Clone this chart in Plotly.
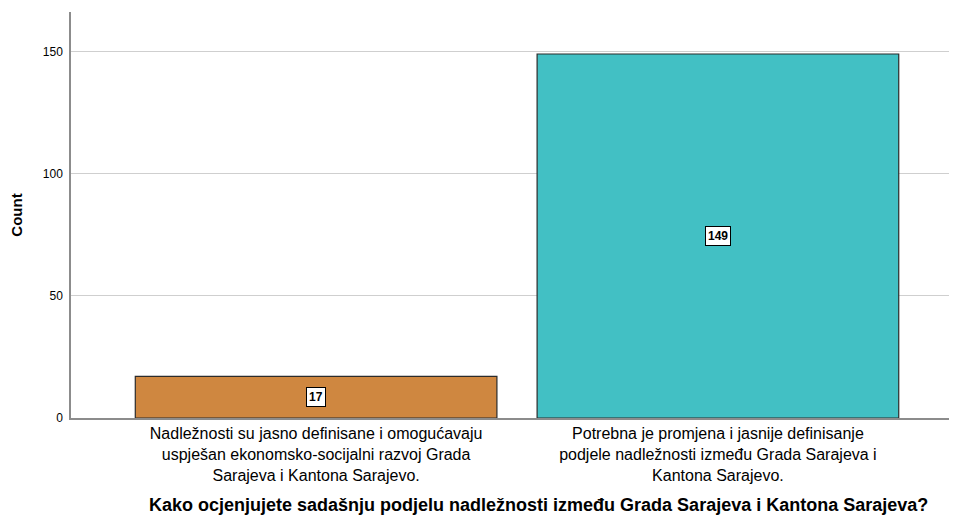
import plotly.graph_objects as go

categories = [
    "Nadležnosti su jasno definisane i omogućavaju<br>uspješan ekonomsko-socijalni razvoj Grada<br>Sarajeva i Kantona Sarajevo.",
    "Potrebna je promjena i jasnije definisanje<br>podjele nadležnosti između Grada Sarajeva i<br>Kantona Sarajevo.",
]
counts = [17, 149]
colors = ["#CF8740", "#42C0C4"]
y_ticks = [0, 50, 100, 150]
x_title = "Kako ocjenjujete sadašnju podjelu nadležnosti između Grada Sarajeva i Kantona Sarajeva?"
y_title = "Count"

FONT = "Liberation Sans, Arial, sans-serif"

fig = go.Figure()
fig.add_trace(go.Bar(
    x=list(range(len(categories))),
    y=counts,
    width=0.9,
    marker=dict(color=colors, line=dict(color="#2b2b2b", width=1.2)),
    hoverinfo="y",
))

for i, c in enumerate(counts):
    fig.add_annotation(
        x=i, y=c / 2, xref="x", yref="y",
        text=f"<b>{c}</b>", showarrow=False,
        font=dict(family=FONT, size=12, color="black"),
        bgcolor="white", bordercolor="black", borderwidth=1, borderpad=2,
    )

fig.add_annotation(
    x=0.528, y=-0.214, xref="paper", yref="paper",
    text=f"<b>{x_title}</b>", showarrow=False,
    font=dict(family=FONT, size=18, color="black"),
    xanchor="center", yanchor="middle",
)

# page body has an 8px margin; size/margins compensate so the plot lands where the reference has it
fig.update_layout(
    width=949, height=514,
    margin=dict(l=63, r=0, t=4, b=104, autoexpand=False),
    plot_bgcolor="white", paper_bgcolor="white",
    showlegend=False,
    xaxis=dict(
        range=[-0.61, 1.595],
        tickmode="array",
        tickvals=list(range(len(categories))),
        ticktext=categories,
        tickfont=dict(family=FONT, size=16, color="black"),
        showline=True, linecolor="#8c8c8c", linewidth=1.5,
        ticks="", showgrid=False, zeroline=False, automargin=False,
    ),
    yaxis=dict(
        range=[0, 166.2],
        tickmode="array",
        tickvals=y_ticks,
        ticktext=[str(t) for t in y_ticks],
        tickfont=dict(family=FONT, size=12, color="black"),
        showline=True, linecolor="#8c8c8c", linewidth=1.5,
        ticks="outside", ticklen=4, tickcolor="white",
        showgrid=True, gridcolor="#cfcfcf", gridwidth=1.2,
        zeroline=False, automargin=False,
        title=dict(text=f"<b>{y_title}</b>", font=dict(family=FONT, size=15, color="black"), standoff=18),
    ),
)

fig.write_html("out.html")
